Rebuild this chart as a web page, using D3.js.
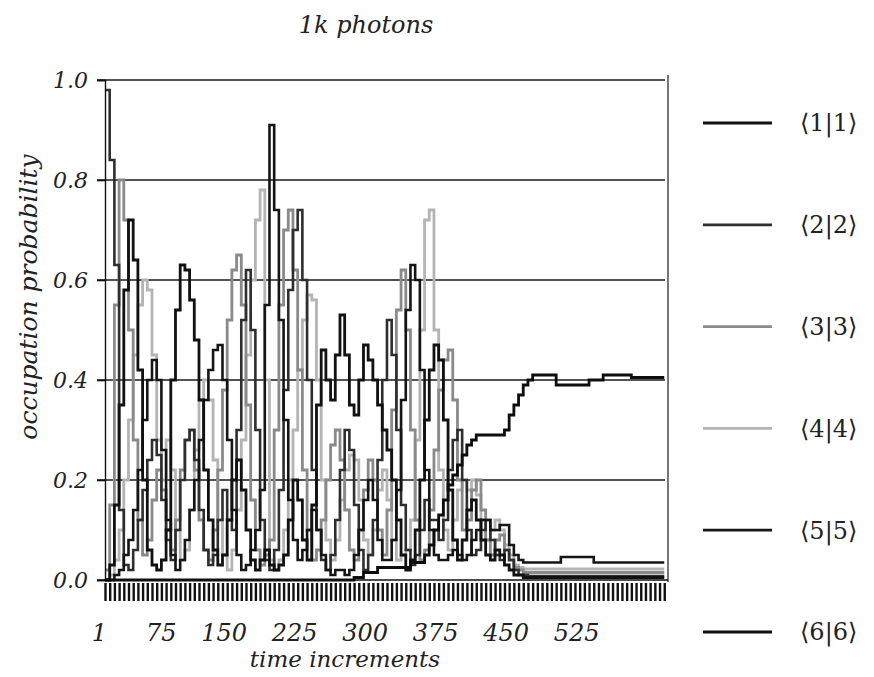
<!DOCTYPE html>
<html><head><meta charset="utf-8">
<script src="https://cdn.jsdelivr.net/npm/d3@7"></script>
<style>body{margin:0;background:#fff}</style>
</head><body><svg id="c" width="874" height="677"></svg>
<script>
const title = "1k photons";
const xTitle = "time increments";
const yTitle = "occupation probability";
const seriesNames = ["⟨1|1⟩","⟨2|2⟩","⟨3|3⟩","⟨4|4⟩","⟨5|5⟩","⟨6|6⟩"];
const seriesColors = ["#111","#2e2e2e","#8a8a8a","#b4b4b4","#151515","#0d0d0d"];
const yTicks = [0, 0.2, 0.4, 0.6, 0.8, 1.0];
const xTickLabels = [1, 75, 150, 225, 300, 375, 450, 525];
const time = d3.range(1, 600, 5);

const s1 = [0.00,0.03,0.15,0.35,0.58,0.72,0.64,0.42,0.20,0.06,
0.03,0.02,0.04,0.10,0.40,0.54,0.63,0.62,0.56,0.48,
0.36,0.22,0.12,0.06,0.03,0.05,0.12,0.20,0.24,0.18,
0.10,0.04,0.02,0.04,0.06,0.03,0.02,0.03,0.05,0.12,
0.20,0.16,0.08,0.04,0.15,0.35,0.46,0.40,0.36,0.45,
0.53,0.45,0.35,0.33,0.40,0.47,0.44,0.40,0.35,0.30,
0.26,0.20,0.12,0.05,0.02,0.04,0.10,0.20,0.32,0.42,
0.47,0.44,0.32,0.18,0.08,0.04,0.08,0.14,0.16,0.12,
0.08,0.05,0.04,0.06,0.05,0.03,0.02,0.01,0.01,0.005,
0.005,0.005,0.005,0.005,0.005,0.005,0.005,0.005,0.005,0.005,
0.005,0.005,0.005,0.005,0.005,0.005,0.005,0.005,0.005,0.005,
0.005,0.005,0.005,0.005,0.005,0.005,0.005,0.005,0.005,0.005];

const s2 = [0.98,0.84,0.63,0.14,0.03,0.02,0.06,0.12,0.18,0.24,
0.28,0.25,0.16,0.08,0.04,0.10,0.20,0.28,0.30,0.24,
0.14,0.06,0.03,0.05,0.12,0.18,0.12,0.10,0.30,0.52,
0.62,0.50,0.30,0.12,0.04,0.02,0.06,0.18,0.38,0.58,
0.70,0.74,0.60,0.40,0.22,0.10,0.04,0.02,0.05,0.12,
0.22,0.30,0.26,0.15,0.06,0.02,0.05,0.12,0.24,0.40,
0.52,0.45,0.30,0.15,0.06,0.03,0.05,0.10,0.16,0.12,
0.12,0.08,0.12,0.22,0.28,0.30,0.20,0.10,0.05,0.06,
0.10,0.12,0.08,0.05,0.04,0.06,0.04,0.02,0.01,0.01,
0.008,0.008,0.008,0.008,0.008,0.008,0.008,0.008,0.008,0.008,
0.008,0.008,0.008,0.008,0.008,0.008,0.008,0.008,0.008,0.008,
0.008,0.008,0.008,0.008,0.008,0.008,0.008,0.008,0.008,0.008];

const s3 = [0.02,0.15,0.55,0.80,0.72,0.50,0.28,0.12,0.05,0.08,
0.16,0.22,0.18,0.10,0.06,0.12,0.22,0.28,0.30,0.22,
0.12,0.06,0.04,0.10,0.22,0.38,0.52,0.62,0.65,0.55,
0.35,0.16,0.06,0.03,0.05,0.08,0.30,0.55,0.70,0.74,
0.62,0.42,0.22,0.10,0.04,0.06,0.12,0.20,0.27,0.30,
0.24,0.14,0.06,0.04,0.10,0.18,0.24,0.20,0.10,0.05,
0.14,0.34,0.54,0.62,0.50,0.30,0.12,0.04,0.06,0.14,
0.26,0.38,0.44,0.46,0.36,0.20,0.10,0.12,0.18,0.20,
0.14,0.08,0.05,0.08,0.09,0.06,0.04,0.025,0.02,0.015,
0.015,0.015,0.015,0.015,0.015,0.015,0.015,0.015,0.015,0.015,
0.015,0.015,0.015,0.015,0.015,0.015,0.015,0.015,0.015,0.015,
0.015,0.015,0.015,0.015,0.015,0.015,0.015,0.015,0.015,0.015];

const s4 = [0.00,0.01,0.04,0.10,0.20,0.32,0.45,0.55,0.60,0.58,
0.45,0.28,0.20,0.28,0.22,0.10,0.04,0.06,0.14,0.26,
0.36,0.40,0.36,0.24,0.12,0.05,0.02,0.06,0.14,0.28,
0.45,0.60,0.72,0.78,0.40,0.04,0.02,0.04,0.10,0.20,
0.30,0.42,0.52,0.57,0.56,0.40,0.20,0.08,0.04,0.08,
0.16,0.22,0.25,0.24,0.16,0.08,0.05,0.10,0.18,0.22,
0.16,0.08,0.04,0.05,0.06,0.12,0.28,0.50,0.72,0.74,
0.50,0.22,0.10,0.06,0.12,0.18,0.20,0.18,0.20,0.17,
0.12,0.08,0.10,0.12,0.10,0.07,0.05,0.03,0.025,0.022,
0.022,0.022,0.022,0.022,0.022,0.022,0.022,0.022,0.022,0.022,
0.022,0.022,0.022,0.022,0.022,0.022,0.022,0.022,0.022,0.022,
0.022,0.022,0.022,0.022,0.022,0.022,0.022,0.022,0.022,0.022];

const s5 = [0.00,0.00,0.01,0.02,0.05,0.08,0.14,0.22,0.32,0.40,
0.44,0.40,0.26,0.12,0.05,0.02,0.04,0.08,0.14,0.20,
0.28,0.36,0.42,0.46,0.47,0.40,0.28,0.14,0.05,0.02,
0.03,0.06,0.10,0.18,0.55,0.91,0.74,0.52,0.32,0.16,
0.08,0.04,0.06,0.10,0.14,0.10,0.05,0.02,0.01,0.02,
0.02,0.01,0.02,0.05,0.10,0.16,0.20,0.16,0.08,0.04,
0.04,0.08,0.18,0.36,0.54,0.63,0.60,0.42,0.22,0.10,
0.05,0.04,0.04,0.05,0.06,0.05,0.04,0.05,0.08,0.10,
0.12,0.12,0.10,0.10,0.11,0.11,0.07,0.05,0.04,0.035,
0.035,0.035,0.035,0.035,0.035,0.035,0.035,0.046,0.046,0.046,
0.046,0.046,0.046,0.046,0.035,0.035,0.035,0.035,0.035,0.035,
0.035,0.035,0.035,0.035,0.035,0.035,0.035,0.035,0.035,0.035];

const s6 = [0,0,0,0,0,0,0,0,0,0,
0,0,0,0,0,0,0,0,0,0,
0,0,0,0,0,0,0,0,0,0,
0,0,0,0,0,0,0,0,0,0,
0,0,0,0,0,0,0,0,0,0,
0,0,0,0.005,0.005,0.015,0.015,0.015,0.025,0.025,
0.025,0.025,0.025,0.025,0.025,0.035,0.035,0.035,0.05,0.07,
0.10,0.13,0.16,0.19,0.21,0.23,0.25,0.27,0.28,0.29,
0.29,0.29,0.29,0.29,0.29,0.30,0.33,0.35,0.37,0.39,
0.40,0.41,0.41,0.41,0.41,0.41,0.39,0.39,0.39,0.39,
0.39,0.39,0.39,0.40,0.40,0.40,0.41,0.41,0.41,0.41,
0.41,0.41,0.405,0.405,0.405,0.405,0.405,0.405,0.405,0.405];

const seriesValues = [s1, s2, s3, s4, s5, s6];
const drawOrder = [3, 2, 1, 4, 0, 5];
const widths = [2.8, 2.6, 2.8, 2.8, 2.6, 2.8];

const svg = d3.select("#c");
const x = d3.scaleLinear().domain([1, 600]).range([105, 668]);
const y = d3.scaleLinear().domain([0, 1]).range([580, 80]);
const serif = "'DejaVu Serif', 'Liberation Serif', serif";

// title
svg.append("text").attr("x", 366).attr("y", 33).attr("text-anchor", "middle")
  .attr("font-family", serif).attr("font-style", "italic").attr("font-size", 24)
  .attr("fill", "#222").text(title);

// gridlines
svg.append("g").selectAll("line").data(yTicks.filter(d => d > 0)).join("line")
  .attr("x1", 97).attr("x2", 665).attr("y1", d => y(d)).attr("y2", d => y(d))
  .attr("stroke", "#1a1a1a").attr("stroke-width", 1.6);

// right border
svg.append("line").attr("x1", 668).attr("x2", 668).attr("y1", 75).attr("y2", 582)
  .attr("stroke", "#777").attr("stroke-width", 2);

// series
const line = d3.line().x((d, i) => x(time[i])).y(d => y(d)).curve(d3.curveStepAfter);
svg.append("g").selectAll("path").data(drawOrder).join("path")
  .attr("d", k => line(seriesValues[k]))
  .attr("fill", "none").attr("stroke", k => seriesColors[k])
  .attr("stroke-width", k => widths[k]).attr("stroke-linejoin", "miter");

// y axis
const yAxis = svg.append("g").attr("transform", "translate(105,0)")
  .call(d3.axisLeft(y).tickValues(yTicks).tickSize(8).tickFormat(d3.format(".1f")));
yAxis.select(".domain").attr("stroke", "#111").attr("stroke-width", 1.4);
yAxis.selectAll(".tick line").attr("stroke", "#111").attr("stroke-width", 1.6);
yAxis.selectAll(".tick text").attr("x", -17).attr("dy", "0.35em")
  .attr("font-family", serif).attr("font-style", "italic").attr("font-size", 22).attr("fill", "#222");

// x axis baseline
svg.append("line").attr("x1", 97).attr("x2", 668).attr("y1", y(0)).attr("y2", y(0))
  .attr("stroke", "#111").attr("stroke-width", 1.6);

// dense comb of x ticks
const comb = svg.append("g").attr("transform", "translate(0,583)")
  .call(d3.axisBottom(x).tickValues(time).tickSize(18).tickFormat(""));
comb.select(".domain").remove();
comb.selectAll(".tick line").attr("stroke", "#111").attr("stroke-width", 2.4);

// x tick labels (right-aligned at their tick)
svg.append("g").selectAll("text").data(xTickLabels).join("text")
  .attr("x", d => x(d) + 2).attr("y", 641).attr("text-anchor", "end")
  .attr("font-family", serif).attr("font-style", "italic").attr("font-size", 24)
  .attr("fill", "#222").text(d => d);

// axis titles
svg.append("text").attr("x", 345).attr("y", 667).attr("text-anchor", "middle")
  .attr("font-family", serif).attr("font-style", "italic").attr("font-size", 23)
  .attr("fill", "#222").text(xTitle);
svg.append("text").attr("transform", "translate(37,297) rotate(-90)").attr("text-anchor", "middle")
  .attr("font-family", serif).attr("font-style", "italic").attr("font-size", 25)
  .attr("fill", "#222").text(yTitle);

// legend
const legendY = d3.scalePoint().domain(seriesNames).range([123, 632]);
const lg = svg.append("g").selectAll("g").data(seriesNames).join("g")
  .attr("transform", d => `translate(0,${legendY(d)})`);
lg.append("line").attr("x1", 703).attr("x2", 772)
  .attr("stroke", (d, i) => seriesColors[i]).attr("stroke-width", 2.8);
lg.append("text").attr("x", 800).attr("dy", "0.35em")
  .attr("font-family", serif).attr("font-size", 24).attr("fill", "#222").text(d => d);
</script></body></html>
